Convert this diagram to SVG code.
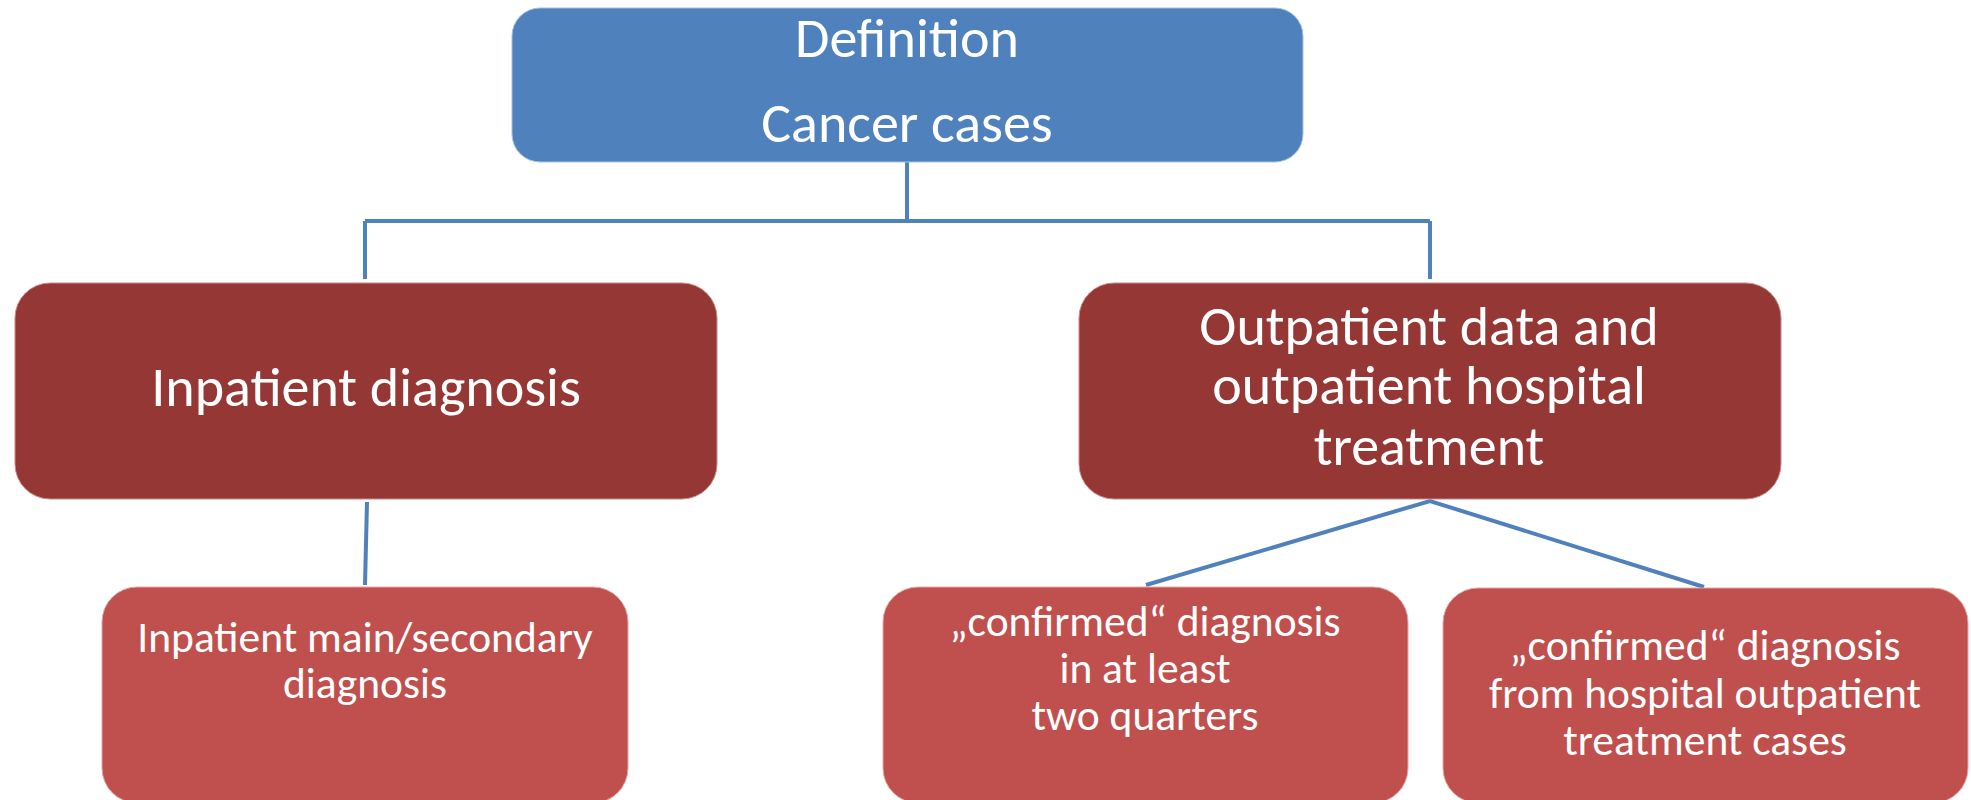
<svg xmlns="http://www.w3.org/2000/svg" width="1971" height="800" viewBox="0 0 1971 800">
<style>
.t{font-family:Carlito,Calibri,Lato,"Liberation Sans",sans-serif;fill:#ffffff;text-anchor:middle}
.big{font-size:56px}
.small{font-size:43.5px}
.conn{stroke:#4F81BD;stroke-width:4;fill:none}
.top{fill:#4F81BD;stroke:#a9c0dd;stroke-width:1}
.mid{fill:#953735;stroke:#c98a88;stroke-width:1}
.low{fill:#C0504D;stroke:#e3a5a3;stroke-width:1}
</style>
<rect width="1971" height="800" fill="#ffffff"/>
<g id="connectors">
<path class="conn" d="M907 162 V221"/>
<path class="conn" d="M365 221 H1430"/>
<path class="conn" d="M365 221 V279"/>
<path class="conn" d="M1430 221 V279"/>
<path class="conn" d="M367 502 L365 585"/>
<path class="conn" d="M1146 585 L1430 501 L1704 587"/>
</g>
<g id="definition">
<rect class="top" x="512" y="8" width="791" height="154" rx="28" ry="28"/>
<text class="t big" x="907" y="57">Definition</text>
<text class="t big" x="907" y="142">Cancer cases</text>
</g>
<g id="inpatient">
<rect class="mid" x="15" y="283" width="702" height="216" rx="35" ry="35"/>
<text class="t big" x="366" y="406">Inpatient diagnosis</text>
</g>
<g id="outpatient">
<rect class="mid" x="1079" y="283" width="702" height="216" rx="35" ry="35"/>
<text class="t big" x="1429" y="345">Outpatient data and</text>
<text class="t big" x="1429" y="404">outpatient hospital</text>
<text class="t big" x="1429" y="465">treatment</text>
</g>
<g id="inpatient-main">
<rect class="low" x="102" y="587" width="526" height="216" rx="35" ry="35"/>
<text class="t small" x="365" y="652">Inpatient main/secondary</text>
<text class="t small" x="365" y="698">diagnosis</text>
</g>
<g id="confirmed-quarters">
<rect class="low" x="883" y="587" width="525" height="216" rx="35" ry="35"/>
<text class="t small" x="1145" y="636">„confirmed“ diagnosis</text>
<text class="t small" x="1145" y="683">in at least</text>
<text class="t small" x="1145" y="730">two quarters</text>
</g>
<g id="confirmed-hospital">
<rect class="low" x="1443" y="588" width="525" height="215" rx="35" ry="35"/>
<text class="t small" x="1705" y="660">„confirmed“ diagnosis</text>
<text class="t small" x="1705" y="708">from hospital outpatient</text>
<text class="t small" x="1705" y="755">treatment cases</text>
</g>
</svg>
